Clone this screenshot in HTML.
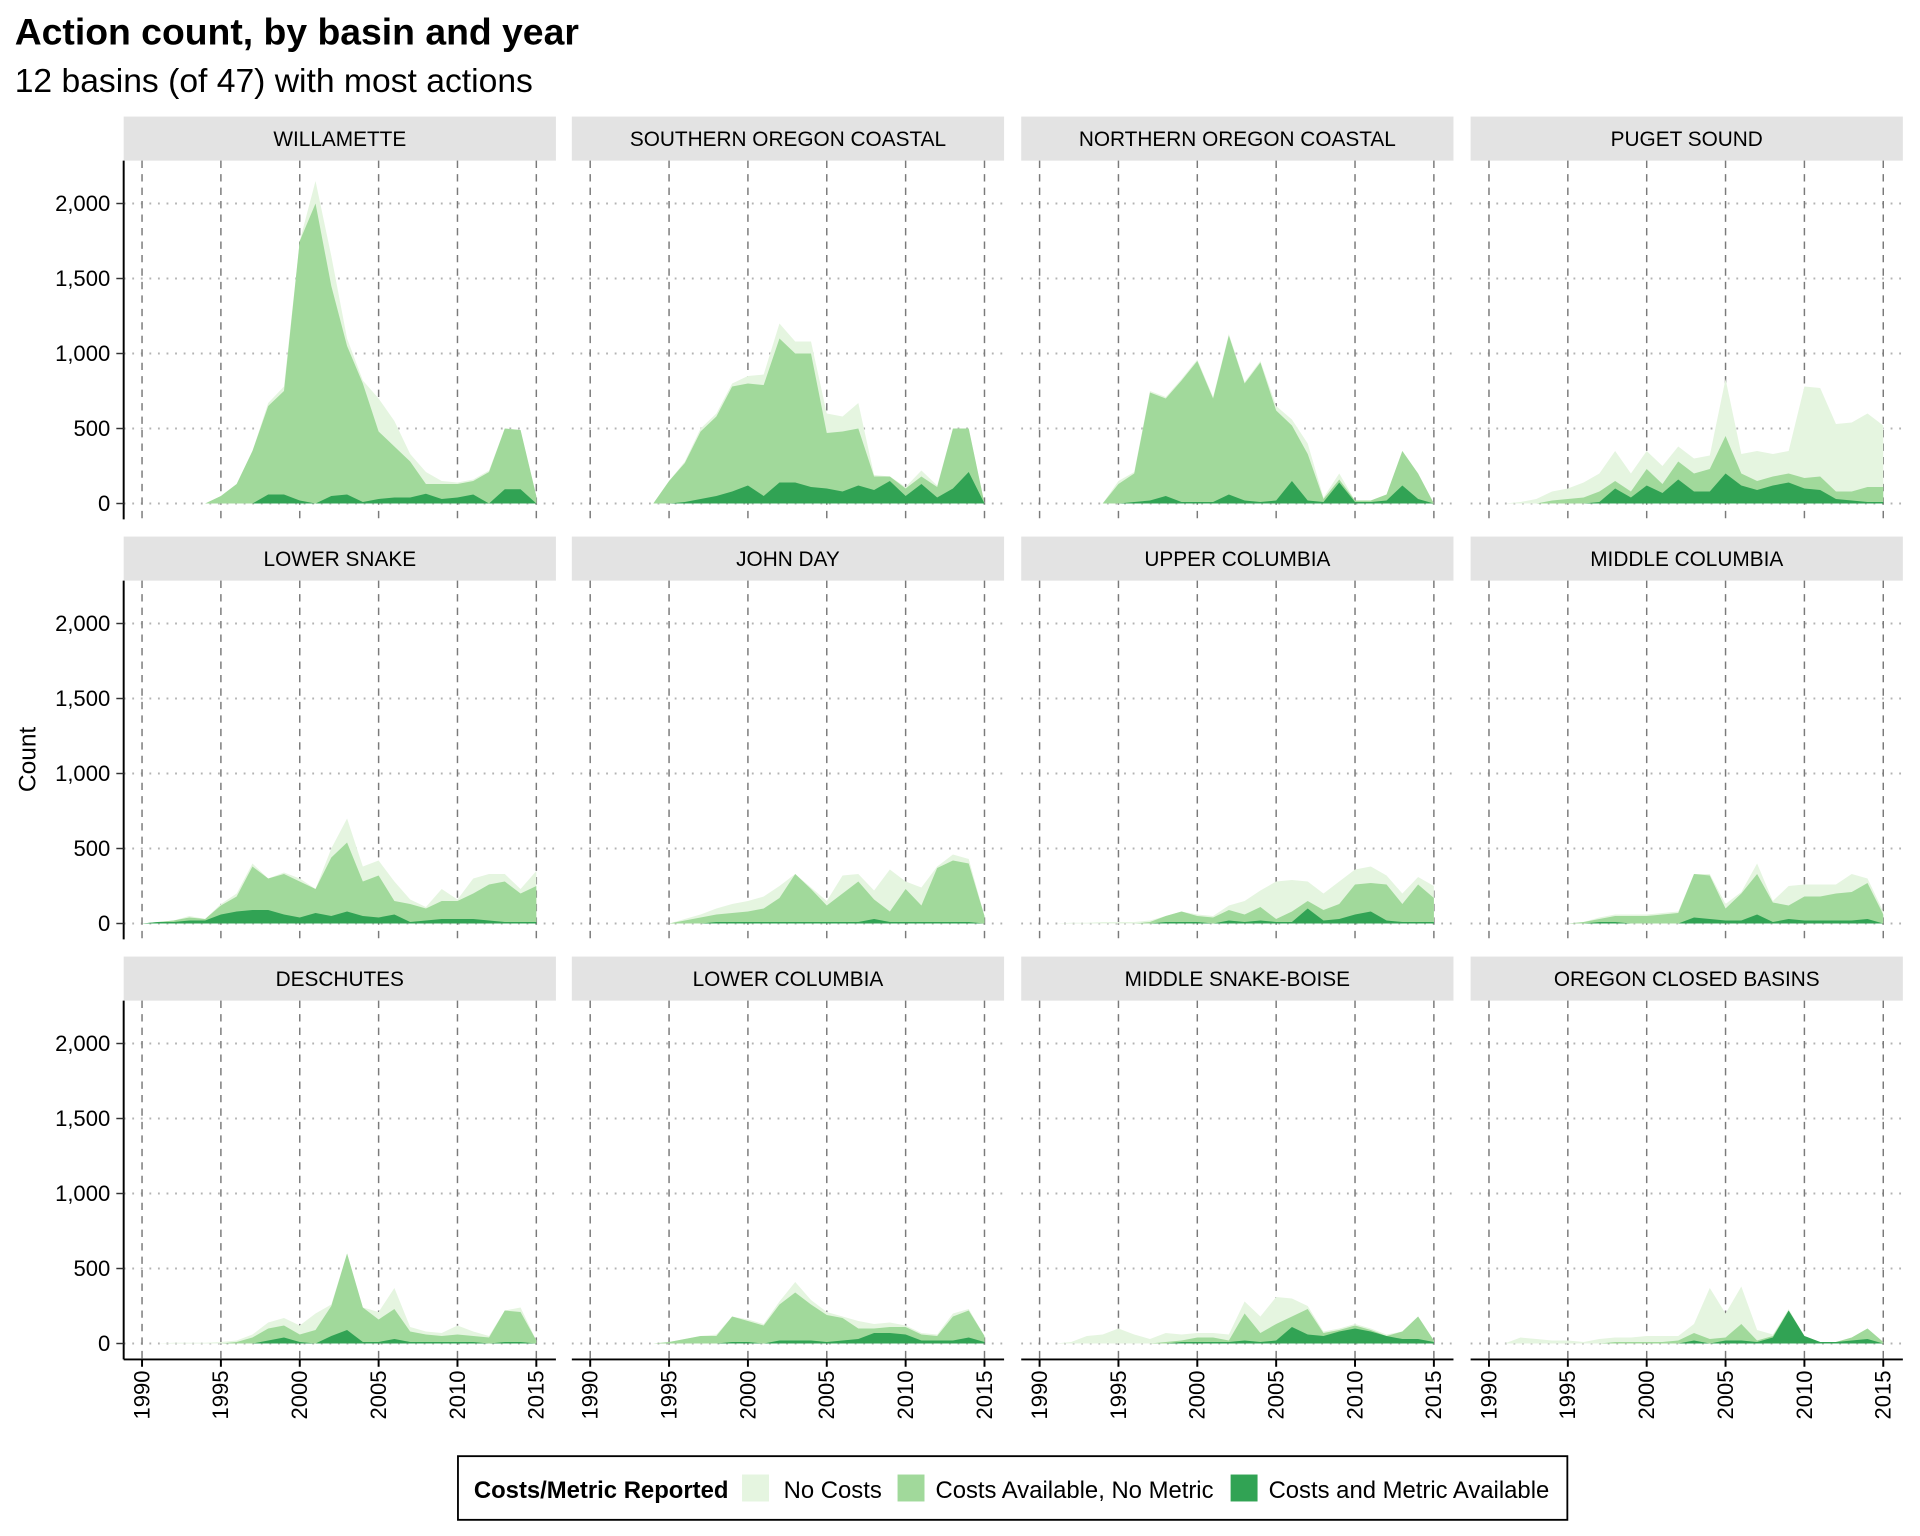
<!DOCTYPE html>
<html><head><meta charset="utf-8"><style>
html,body{margin:0;padding:0;background:#fff}
svg{display:block;font-family:"Liberation Sans",Arial,sans-serif}
</style></head><body>
<svg id="chart" width="1920" height="1536" viewBox="0 0 1568 1254" xmlns="http://www.w3.org/2000/svg">
<text x="12" y="36" font-size="30.5" font-weight="bold">Action count, by basin and year</text>
<text x="12" y="75" font-size="27.5">12 basins (of 47) with most actions</text>
<text transform="translate(29,620) rotate(-90)" text-anchor="middle" font-size="20">Count</text>
<g id="panels"></g>
<g>
<rect x="374" y="1189" width="906" height="52" fill="#fff" stroke="#000" stroke-width="1.5"/>
<text x="387" y="1223" font-size="19.5" font-weight="bold">Costs/Metric Reported</text>
<rect x="606" y="1204" width="22" height="22" fill="#e5f5e0"/>
<text x="640" y="1223" font-size="19.5">No Costs</text>
<rect x="733" y="1204" width="22" height="22" fill="#a1d99b"/>
<text x="764" y="1223" font-size="19.5">Costs Available, No Metric</text>
<rect x="1005" y="1204" width="22" height="22" fill="#31a354"/>
<text x="1036" y="1223" font-size="19.5">Costs and Metric Available</text>
</g>
</svg>
<script>
const years = [1990,1991,1992,1993,1994,1995,1996,1997,1998,1999,2000,2001,2002,2003,2004,2005,2006,2007,2008,2009,2010,2011,2012,2013,2014,2015];
const basins = ["WILLAMETTE","SOUTHERN OREGON COASTAL","NORTHERN OREGON COASTAL","PUGET SOUND","LOWER SNAKE","JOHN DAY","UPPER COLUMBIA","MIDDLE COLUMBIA","DESCHUTES","LOWER COLUMBIA","MIDDLE SNAKE-BOISE","OREGON CLOSED BASINS"];
const yTicks = [0,500,1000,1500,2000];
const yTickLabels = ["0","500","1,000","1,500","2,000"];
const xTicks = [1990,1995,2000,2005,2010,2015];
const metricTop = [
[0,0,0,0,0,0,0,0,60,60,20,0,50,60,10,30,40,40,65,30,40,60,0,95,95,0],
[0,0,0,0,0,0,10,30,50,80,120,50,140,140,110,100,80,120,90,150,50,130,40,100,210,0],
[0,0,0,0,0,0,10,20,50,10,10,10,60,20,10,20,150,20,10,140,10,10,20,120,30,0],
[0,0,0,0,0,0,0,10,100,40,120,70,160,80,80,200,120,90,120,140,100,90,30,20,10,10],
[0,10,10,20,20,60,80,90,90,60,40,70,50,80,50,40,60,10,20,30,30,30,20,10,10,10],
[0,0,0,0,0,0,0,0,10,10,10,10,10,10,10,10,10,10,30,10,10,10,10,10,10,0],
[0,0,0,0,0,0,0,0,10,10,10,0,20,10,20,10,10,100,20,30,60,80,20,10,10,10],
[0,0,0,0,0,0,0,10,10,0,0,0,0,40,30,20,20,60,10,30,20,20,20,20,30,0],
[0,0,0,0,0,0,0,0,20,40,10,0,50,90,10,10,30,10,10,10,10,10,0,10,10,0],
[0,0,0,0,0,0,0,0,0,10,10,0,20,20,20,10,20,30,70,70,60,20,20,20,40,10],
[0,0,0,0,0,0,0,0,0,10,10,10,10,20,10,20,110,60,50,80,100,80,50,30,30,10],
[0,0,0,0,0,0,0,0,0,0,0,0,0,20,0,20,20,10,40,220,50,10,10,20,30,0]];
const costsTop = [
[0,0,0,0,0,50,130,350,650,750,1750,2000,1450,1050,800,480,380,280,130,130,130,150,210,500,490,50],
[0,0,0,0,0,150,270,480,580,780,800,790,1100,1000,1000,470,480,500,180,180,100,180,110,500,500,0],
[0,0,0,0,0,130,200,740,700,820,950,700,1120,800,940,620,520,330,30,160,20,20,60,350,200,0],
[0,0,0,0,20,30,40,80,150,80,230,130,280,200,230,450,200,150,180,200,170,180,80,80,110,110],
[0,10,20,40,30,120,180,380,300,330,280,230,440,540,280,320,150,130,100,150,150,200,260,280,200,250],
[0,0,0,0,0,0,20,40,60,70,80,100,170,330,230,120,200,280,160,80,230,120,370,420,400,50],
[0,0,0,0,0,0,0,10,50,80,50,40,90,60,110,30,80,150,90,130,260,270,260,130,260,170],
[0,0,0,0,0,0,10,30,50,50,50,60,70,330,320,100,200,330,140,120,180,180,200,210,270,60],
[0,0,0,0,0,0,10,40,100,120,60,90,250,600,240,160,230,80,60,50,60,50,40,220,210,20],
[0,0,0,0,0,10,30,50,50,180,150,120,260,340,260,190,170,100,100,110,110,60,50,180,220,50],
[0,0,0,0,0,0,0,0,10,20,40,40,20,200,70,130,180,230,70,90,120,90,50,80,180,20],
[0,0,0,0,0,0,0,0,10,10,10,10,20,70,30,40,130,20,50,220,50,10,10,40,100,10]];
const totalTop = [
[0,0,0,0,0,50,130,350,670,780,1750,2150,1650,1100,820,700,550,330,210,150,140,160,220,500,490,50],
[0,0,0,0,0,150,280,500,600,800,850,860,1200,1080,1080,600,580,670,190,180,110,220,120,500,500,0],
[0,0,0,0,0,150,210,750,710,830,960,710,1130,810,950,650,560,400,40,200,20,20,60,350,200,0],
[0,0,10,30,80,100,140,200,350,200,350,250,380,300,320,830,330,350,330,350,780,770,530,540,600,520],
[0,10,20,50,30,130,200,400,300,340,300,230,500,700,380,420,280,160,110,230,160,300,330,330,230,350],
[0,0,0,0,0,0,30,60,100,130,150,180,250,330,240,150,320,330,220,360,280,240,380,460,430,50],
[0,0,5,5,10,10,10,20,50,80,60,50,120,150,220,280,290,280,200,280,360,380,320,200,310,250],
[0,0,0,0,0,0,10,40,60,60,60,70,80,330,330,130,210,400,150,250,260,260,260,330,300,80],
[0,0,5,5,5,10,20,60,140,170,120,200,260,600,240,210,370,110,80,70,120,80,50,220,240,20],
[0,0,0,0,0,10,30,50,60,180,160,130,280,410,290,210,180,150,130,140,120,70,60,200,230,50],
[0,0,10,50,60,100,60,30,70,60,70,70,60,280,180,310,300,250,80,100,130,100,60,80,180,20],
[0,0,40,30,20,20,10,30,40,40,50,50,50,130,370,200,380,90,60,230,50,10,10,40,100,10]];

const NS="http://www.w3.org/2000/svg";
const root=document.getElementById('panels');
function mk(tag,attrs,parent){const e=document.createElementNS(NS,tag);for(const k in attrs)e.setAttribute(k,attrs[k]);parent.appendChild(e);return e;}
const colX=[101,467,834,1201], panelW=353;
const rowTop=[95,438,781];
function slug(s){return s.toLowerCase().replace(/[^a-z]+/g,'-');}
basins.forEach((name,i)=>{
  const r=Math.floor(i/4), c=i%4;
  const left=colX[c], top=rowTop[r];
  const zeroY=top+316, y2000=top+71;
  const yS=v=>zeroY-(v/2000)*(zeroY-y2000);
  const xS=yr=>left+15+(yr-1990)*(322/25);
  const g=mk('g',{},root);
  
  
  const strip=mk('rect',{x:left,y:top,width:panelW,height:36,fill:'#e3e3e3'},g);
  
  
  const st=mk('text',{x:left+panelW/2,y:top+24,'text-anchor':'middle','font-size':17},g);
  st.textContent=name;
  
  
  const bottom=top+329;
  yTicks.forEach(v=>{mk('line',{x1:left,x2:left+panelW,y1:yS(v),y2:yS(v),stroke:'#b3b3b3','stroke-width':1.6,'stroke-dasharray':'1.5,5.5'},g);});
  xTicks.forEach(yr=>{mk('line',{x1:xS(yr),x2:xS(yr),y1:top+36,y2:bottom,stroke:'#7a7a7a','stroke-width':1.2,'stroke-dasharray':'6,5'},g);});
  const layers=[[totalTop,'#e5f5e0','no-costs'],[costsTop,'#a1d99b','costs-no-metric'],[metricTop,'#31a354','costs-and-metric']];
  layers.forEach(([arr,col,nm])=>{
    const d=arr[i];
    let p='M'+xS(years[0])+','+yS(0);
    years.forEach((yr,k)=>{p+=' L'+xS(yr).toFixed(2)+','+yS(d[k]).toFixed(2);});
    p+=' L'+xS(years[years.length-1])+','+yS(0)+' Z';
    const a=mk('path',{d:p,fill:col},g);
    
    
  });
  if(c===0){
    mk('line',{x1:left,x2:left,y1:top+36,y2:bottom,stroke:'#000','stroke-width':1.6},g);
    yTicks.forEach((v,k)=>{
      mk('line',{x1:left-6,x2:left,y1:yS(v),y2:yS(v),stroke:'#333','stroke-width':1.2},g);
      const t=mk('text',{x:left-11,y:yS(v)+6,'text-anchor':'end','font-size':18},g);
      t.textContent=yTickLabels[k];
      
      
    });
  }
  if(r===2){
    mk('line',{x1:left,x2:left+panelW,y1:bottom,y2:bottom,stroke:'#000','stroke-width':1.6},g);
    xTicks.forEach(yr=>{
      mk('line',{x1:xS(yr),x2:xS(yr),y1:bottom,y2:bottom+6,stroke:'#000','stroke-width':1.6},g);
      const t=mk('text',{transform:'translate('+(xS(yr)+6)+','+(bottom+9)+') rotate(-90)','text-anchor':'end','font-size':18},g);
      t.textContent=String(yr);
      
      
    });
  }
});
</script>
</body></html>
